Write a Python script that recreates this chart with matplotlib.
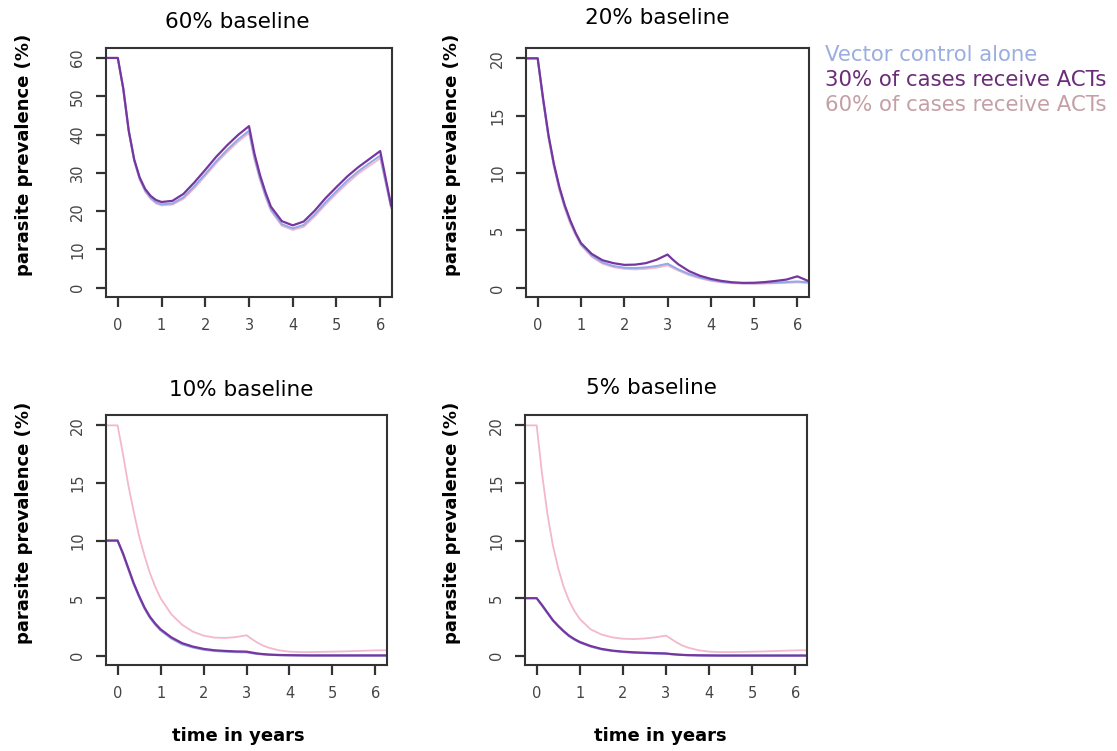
import matplotlib
matplotlib.use("Agg")
import matplotlib.pyplot as plt

# time in years
t = [-0.25, 0, 0.125, 0.25, 0.375, 0.5, 0.625, 0.75, 0.875, 1.0, 1.25, 1.5, 1.75, 2.0, 2.25, 2.5, 2.75,
     3.0, 3.125, 3.25, 3.375, 3.5, 3.75, 4.0, 4.25, 4.5, 4.75, 5.0, 5.25, 5.5, 5.75, 6.0, 6.25]

# 60% baseline
vc_60 = [60, 60, 52, 41, 33.3, 28.5, 25.4, 23.5, 22.3, 21.8, 22.0, 23.6, 26.5, 29.7, 33.0, 36.0, 38.7,
         41.0, 34.0, 28.6, 24.2, 20.5, 16.6, 15.5, 16.4, 19.1, 22.3, 25.2, 28.0, 30.4, 32.5, 34.5, 21.0]
act30_60 = [60, 60, 52, 41, 33.5, 28.8, 25.8, 24.0, 22.9, 22.4, 22.7, 24.5, 27.5, 30.8, 34.2, 37.2, 39.9,
            42.2, 35.0, 29.5, 25.0, 21.2, 17.4, 16.3, 17.3, 20.1, 23.4, 26.3, 29.1, 31.5, 33.6, 35.7, 21.5]
act60_60 = [60, 60, 51.8, 40.8, 33.0, 28.2, 25.1, 23.2, 22.0, 21.5, 21.7, 23.2, 26.0, 29.2, 32.5, 35.4, 38.1,
            40.4, 33.5, 28.2, 23.8, 20.1, 16.2, 15.1, 15.9, 18.6, 21.7, 24.6, 27.3, 29.8, 31.8, 33.8, 20.8]

# 20% baseline
vc_20 = [20, 20, 16.4, 13.2, 10.7, 8.7, 7.1, 5.8, 4.7, 3.8, 2.8, 2.2, 1.9, 1.75, 1.72, 1.78, 1.9,
         2.1, 1.85, 1.6, 1.4, 1.2, 0.9, 0.68, 0.52, 0.44, 0.4, 0.4, 0.42, 0.45, 0.5, 0.55, 0.48]
act30_20 = [20, 20, 16.5, 13.3, 10.8, 8.8, 7.2, 5.9, 4.8, 3.9, 2.95, 2.4, 2.15, 2.0, 2.02, 2.15, 2.45,
            2.9, 2.45, 2.05, 1.75, 1.45, 1.05, 0.78, 0.6, 0.48, 0.43, 0.44, 0.5, 0.6, 0.72, 1.0, 0.6]
act60_20 = [20, 20, 16.3, 13.0, 10.5, 8.5, 6.9, 5.6, 4.6, 3.7, 2.7, 2.1, 1.8, 1.65, 1.6, 1.65, 1.75,
            1.95, 1.72, 1.5, 1.3, 1.1, 0.82, 0.6, 0.47, 0.4, 0.36, 0.35, 0.37, 0.4, 0.43, 0.47, 0.42]

# 10% baseline
vc_10 = [10, 10, 8.8, 7.5, 6.2, 5.1, 4.1, 3.3, 2.7, 2.2, 1.5, 1.0, 0.72, 0.53, 0.42, 0.36, 0.32,
         0.3, 0.22, 0.16, 0.12, 0.09, 0.05, 0.04, 0.03, 0.02, 0.02, 0.02, 0.02, 0.02, 0.02, 0.02, 0.02]
act30_10 = [10, 10, 8.9, 7.6, 6.3, 5.2, 4.2, 3.4, 2.8, 2.3, 1.6, 1.1, 0.8, 0.6, 0.48, 0.42, 0.38,
            0.36, 0.28, 0.2, 0.15, 0.11, 0.07, 0.05, 0.04, 0.03, 0.03, 0.03, 0.03, 0.03, 0.03, 0.03, 0.03]
act60_10 = [20, 20, 17.5, 14.8, 12.5, 10.4, 8.7, 7.2, 6.0, 5.0, 3.6, 2.7, 2.1, 1.75, 1.58, 1.55, 1.62,
            1.78, 1.45, 1.15, 0.9, 0.72, 0.48, 0.36, 0.32, 0.32, 0.34, 0.36, 0.38, 0.41, 0.44, 0.47, 0.48]

# 5% baseline
vc_5 = [5, 5, 4.35, 3.7, 3.05, 2.55, 2.1, 1.7, 1.4, 1.15, 0.8, 0.56, 0.42, 0.33, 0.27, 0.23, 0.2,
        0.18, 0.13, 0.1, 0.07, 0.05, 0.03, 0.02, 0.02, 0.02, 0.02, 0.02, 0.02, 0.02, 0.02, 0.02, 0.02]
act30_5 = [5, 5, 4.4, 3.75, 3.1, 2.6, 2.15, 1.75, 1.45, 1.2, 0.85, 0.6, 0.45, 0.36, 0.3, 0.26, 0.23,
           0.2, 0.15, 0.11, 0.08, 0.06, 0.04, 0.03, 0.02, 0.02, 0.02, 0.02, 0.02, 0.02, 0.02, 0.02, 0.02]
act60_5 = [20, 20, 15.8, 12.3, 9.6, 7.6, 6.0, 4.8, 3.9, 3.2, 2.3, 1.85, 1.6, 1.48, 1.45, 1.5, 1.6,
           1.75, 1.45, 1.15, 0.9, 0.72, 0.48, 0.36, 0.32, 0.32, 0.34, 0.36, 0.38, 0.41, 0.44, 0.47, 0.48]

titles = ["60% baseline", "20% baseline", "10% baseline", "5% baseline"]
yticks = [[0, 10, 20, 30, 40, 50, 60], [0, 5, 10, 15, 20], [0, 5, 10, 15, 20], [0, 5, 10, 15, 20]]
ylims = [(-2.4, 62.6), (-0.8, 20.9), (-0.8, 20.9), (-0.8, 20.9)]
series = [(vc_60, act30_60, act60_60), (vc_20, act30_20, act60_20),
          (vc_10, act30_10, act60_10), (vc_5, act30_5, act60_5)]
legend_labels = ["Vector control alone", "30% of cases receive ACTs", "60% of cases receive ACTs"]

blue = "#93aae6"
purple = "#7636a0"
pink = "#f3b8cc"

W, H = 1117, 751
fig = plt.figure(figsize=(W / 100, H / 100), dpi=100)

# axes boxes in pixels: left, top, right, bottom
boxes = [(106, 48, 392, 297), (526, 48, 809, 297), (106, 415, 387, 665), (525, 415, 807, 665)]
title_pos = [(0.46, 1.105), (0.463, 1.12), (0.48, 1.10), (0.45, 1.108)]
ylab_x = [-0.255, -0.23, -0.26, -0.227]
xlab_x = [None, None, 0.47, 0.48]

for i in range(4):
    l, tp, r, b = boxes[i]
    ax = fig.add_axes([l / W, 1 - b / H, (r - l) / W, (b - tp) / H])
    vc, a30, a60 = series[i]
    ax.plot(t, a60, color=pink, lw=1.3)
    ax.plot(t, vc, color=blue, lw=1.5)
    ax.plot(t, a30, color=purple, lw=1.6)
    ax.set_xlim(-0.27, 6.27)
    ax.set_ylim(*ylims[i])
    ax.set_xticks(range(7))
    ax.set_yticks(yticks[i])
    ax.tick_params(direction="out", length=7, width=1.6, color="#333333",
                   labelsize=10.5, labelcolor="#444444", pad=8)
    for lab in ax.get_yticklabels():
        lab.set_rotation(90)
        lab.set_va("center")
    for s in ax.spines.values():
        s.set_linewidth(1.5)
        s.set_color("#333333")
    ax.text(title_pos[i][0], title_pos[i][1], titles[i], transform=ax.transAxes,
            ha="center", va="center", fontsize=15.5)
    ax.set_ylabel("parasite prevalence (%)", fontsize=13, fontweight="bold")
    ax.yaxis.set_label_coords(ylab_x[i], 0.57)
    if xlab_x[i] is not None:
        ax.set_xlabel("time in years", fontsize=13, fontweight="bold")
        ax.xaxis.set_label_coords(xlab_x[i], -0.248)

leg_colors = ["#9aaedf", "#6b2c78", "#c4a0a6"]
for k in range(3):
    fig.text(825 / W, 1 - (55 + 25 * k) / H, legend_labels[k], color=leg_colors[k],
             fontsize=15.3, ha="left", va="center")

plt.savefig("out.png", dpi=100)
